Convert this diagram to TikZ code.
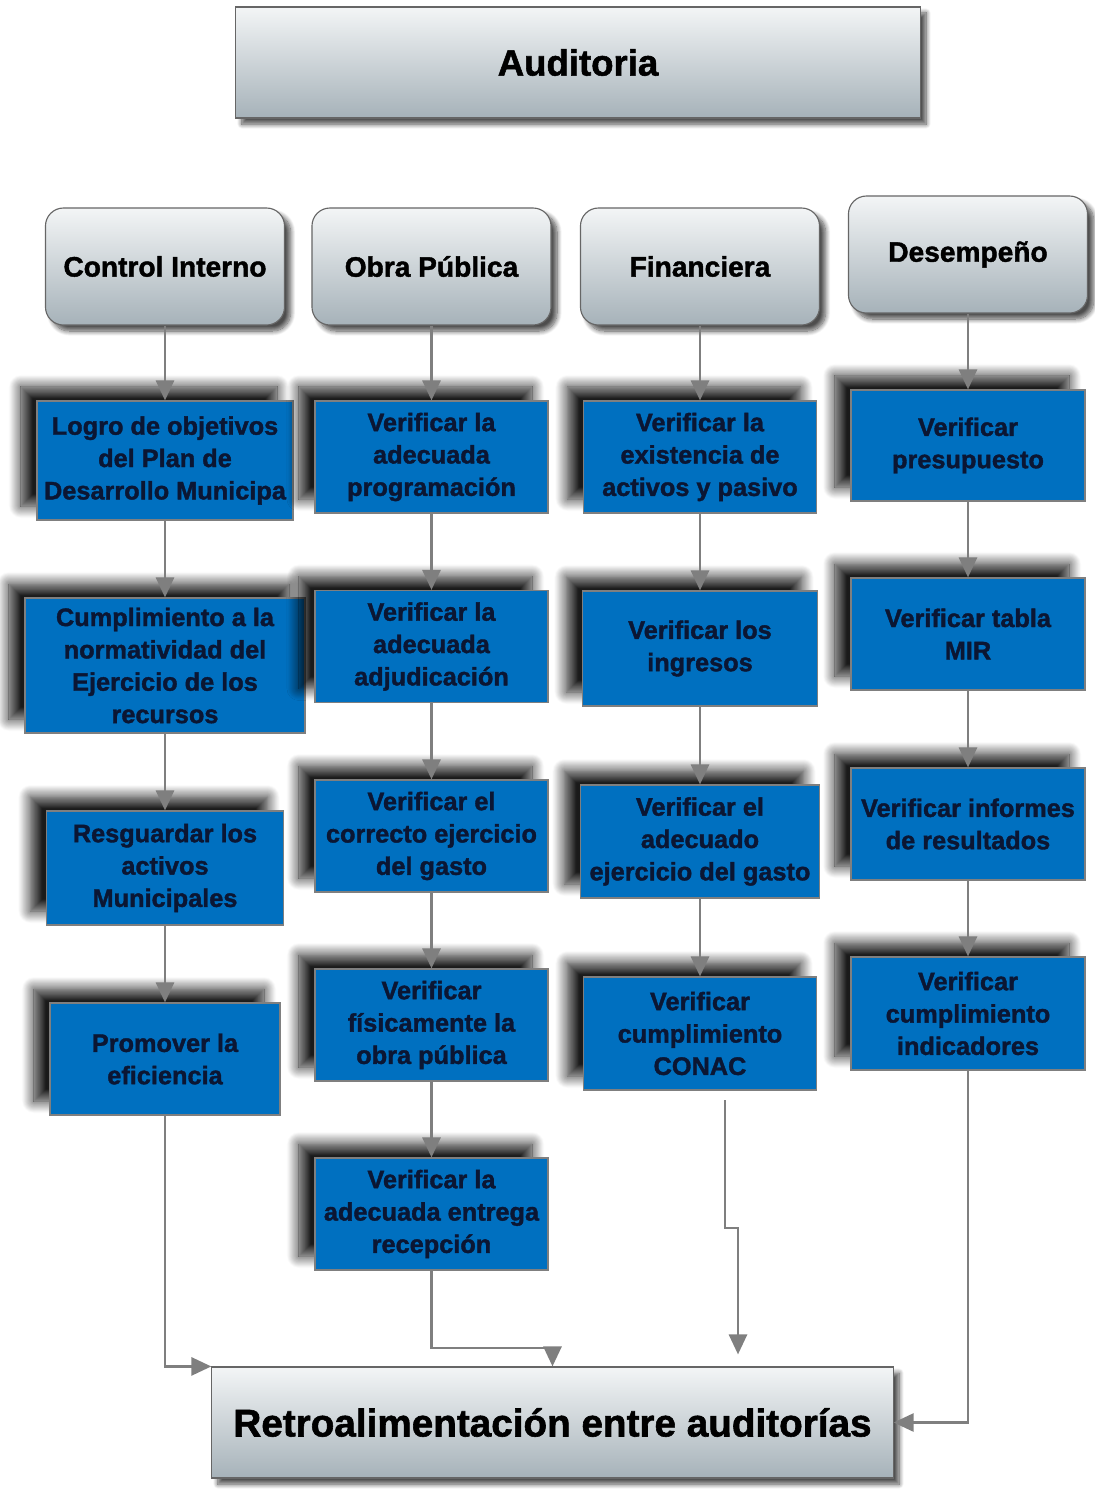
\documentclass[tikz,border=0pt]{standalone}
\usepackage{fontspec}
\setmainfont{Liberation Sans}[BoldFeatures={FakeBold=1.5}]
\usetikzlibrary{arrows.meta,shadows.blur}
\definecolor{azul}{HTML}{0070C0}
\definecolor{marino}{HTML}{0B1633}
\definecolor{gris}{HTML}{7F7F7F}
\definecolor{grisclaro}{HTML}{F3F5F6}
\definecolor{grisoscuro}{HTML}{A6B2B9}

\begin{document}
\begin{tikzpicture}[x=0.025cm, y=-0.025cm,
  caja/.style={draw=gris, line width=0.8pt, fill=azul, text=marino, align=center, inner sep=1pt,
    font=\bfseries\fontsize{18}{23}\selectfont, minimum width=5.825cm, minimum height=2.8cm,
    blur shadow={shadow xshift=-0.4cm, shadow yshift=0.35cm, shadow blur radius=0.3cm,
      shadow blur steps=16, shadow opacity=90}},
  encabezado/.style={draw=gris!80!black, line width=0.8pt, rounded corners=0.45cm,
    top color=grisclaro, bottom color=grisoscuro, align=center,
    font=\bfseries\fontsize{20}{24}\selectfont, minimum width=5.975cm, minimum height=2.925cm,
    blur shadow={shadow xshift=0.15cm, shadow yshift=-0.15cm, shadow blur radius=0.12cm,
      shadow blur steps=10, shadow opacity=70}},
  titulo/.style={encabezado, rounded corners=0pt, minimum height=2.775cm},
  flecha/.style={draw=gris, line width=2pt, -{Triangle[length=0.5cm, width=0.45cm]}}
]
\useasboundingbox (0,0) rectangle (1094,1489);

\node[titulo, minimum width=17.1cm, font=\bfseries\fontsize{26}{30}\selectfont] (aud) at (578,62.5) {Auditoria};

\node[encabezado] (ci)  at (165,266.5)   {Control Interno};
\node[encabezado] (op)  at (431.5,266.5) {Obra Pública};
\node[encabezado] (fin) at (700,266.5)   {Financiera};
\node[encabezado] (des) at (968,254.5)   {Desempeño};

\node[caja, minimum width=6.4cm, minimum height=2.975cm] (ci1) at (165,460.5) {Logro de objetivos\\del Plan de\\Desarrollo Municipa};
\node[caja, minimum width=7cm, minimum height=3.375cm] (ci2) at (165,665.5) {Cumplimiento a la\\normatividad del\\Ejercicio de los\\recursos};
\node[caja, minimum width=5.925cm, minimum height=2.85cm] (ci3) at (165,868) {Resguardar los\\activos\\Municipales};
\node[caja, minimum width=5.75cm] (ci4) at (165,1059) {Promover la\\eficiencia};

\node[caja] (op1) at (431.5,457)    {Verificar la\\adecuada\\programación};
\node[caja] (op2) at (431.5,646.5)  {Verificar la\\adecuada\\adjudicación};
\node[caja] (op3) at (431.5,836)    {Verificar el\\correcto ejercicio\\del gasto};
\node[caja] (op4) at (431.5,1025)   {Verificar\\físicamente la\\obra pública};
\node[caja] (op5) at (431.5,1214)   {Verificar la\\adecuada entrega\\recepción};

\node[caja] (fin1) at (700,457) {Verificar la\\existencia de\\activos y pasivo};
\node[caja, minimum width=5.875cm, minimum height=2.875cm] (fin2) at (700,648.5) {Verificar los\\ingresos};
\node[caja, minimum width=5.975cm, minimum height=2.825cm] (fin3) at (700,841.5) {Verificar el\\adecuado\\ejercicio del gasto};
\node[caja, minimum height=2.825cm] (fin4) at (700,1033.5) {Verificar\\cumplimiento\\CONAC};

\node[caja, minimum width=5.85cm, minimum height=2.775cm] (des1) at (968,445.5) {Verificar\\presupuesto};
\node[caja, minimum width=5.85cm] (des2) at (968,634) {Verificar tabla\\MIR};
\node[caja, minimum width=5.85cm] (des3) at (968,824) {Verificar informes\\de resultados};
\node[caja, minimum width=5.85cm, minimum height=2.825cm] (des4) at (968,1013.5) {Verificar\\cumplimiento\\indicadores};

\node[titulo, minimum width=17.025cm, font=\bfseries\fontsize{27.5}{32}\selectfont] (retro) at (552.5,1422.5) {Retroalimentación entre auditorías};

\foreach \a/\b in {ci/ci1,ci1/ci2,ci2/ci3,ci3/ci4,
                   op/op1,op1/op2,op2/op3,op3/op4,op4/op5,
                   fin/fin1,fin1/fin2,fin2/fin3,fin3/fin4,
                   des/des1,des1/des2,des2/des3,des3/des4}
  \draw[flecha] (\a) -- (\b);

\coordinate (opcodo)  at (431.5,1348);
\coordinate (finsal)  at (725,1100);
\coordinate (fincodo) at (738,1228);
\draw[flecha] (ci4) |- (retro.north west);
\draw[flecha] (op5) -- (opcodo) -| (retro.north);
\draw[flecha, shorten >=0.3cm] (finsal) |- (fincodo) -- (fincodo |- retro.north);
\draw[flecha] (des4) |- (retro.east);

\end{tikzpicture}
\end{document}
